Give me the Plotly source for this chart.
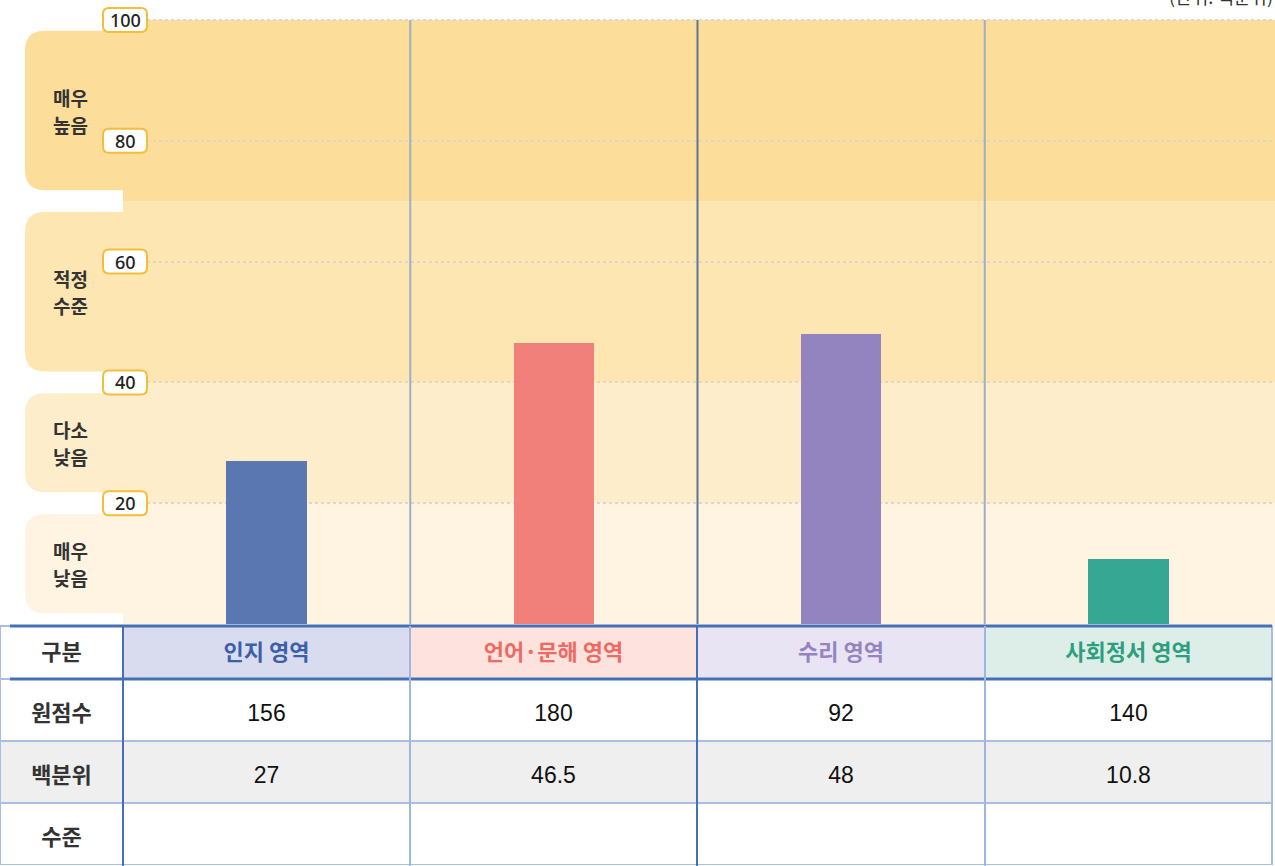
import plotly.graph_objects as go

# ---------------- data ----------------
categories = ['인지 영역', '언어·문해 영역', '수리 영역', '사회정서 영역']
raw_scores = [156, 180, 92, 140]
percentiles = [27, 46.5, 48, 10.8]
row_labels = ['구분', '원점수', '백분위', '수준']
level_names = [['매우', '낮음'], ['다소', '낮음'], ['적정', '수준'], ['매우', '높음']]
level_bounds = [0, 20, 40, 70, 100]
y_ticks = [20, 40, 60, 80, 100]
unit_text = '(단위: 백분위)'

# ---------------- styles ----------------
bar_colors = ['#5B77B1', '#F2807A', '#9384BF', '#36A792']
head_fill = ['#D9DCEE', '#FDE2DE', '#E9E4F3', '#DDEEE8']
head_font = ['#3C5FA8', '#EE6A63', '#9584C0', '#2E9E80']
band_colors = ['#FEF4E1', '#FEEDCB', '#FDE6B2', '#FCDD9A']

W, H = 1275, 866
PLOT_L, PLOT_R = 123, 1272
PLOT_T, PLOT_B = 20, 624          # pixel rows of value 100 and value 0
TABLE_T = 626
KFONT = 'Noto Sans CJK KR'
NFONT = 'Liberation Sans, Arial'
Y_MAX = 100.0 * PLOT_B / (PLOT_B - PLOT_T)   # axis extends to top edge, same scale

def px2y(p):
    return (H - p) / H

def shifted(txt, size, bold=False, family=None):
    inner = '<b>' + txt + '</b>' if bold else txt
    style = 'font-size:%dpx' % size
    if family:
        style += ';font-family:%s' % family
    return '\u00a0<br><span style="%s">%s</span>' % (style, inner)

fig = go.Figure()

fig.add_trace(go.Bar(
    x=categories, y=percentiles, marker=dict(color=bar_colors, line=dict(width=0)),
    width=0.28, hoverinfo='skip', showlegend=False))

# table
col0 = [shifted(v, 22, bold=True, family=KFONT) for v in row_labels[1:]]
cell_cols = [col0]
for i in range(len(categories)):
    cell_cols.append([shifted(str(raw_scores[i]), 23), shifted(str(percentiles[i]), 23), ''])

fig.add_trace(go.Table(
    domain=dict(x=[0, PLOT_R / W], y=[0, px2y(TABLE_T)]),
    columnwidth=[123, 287, 287, 288, 287],
    header=dict(
        values=['<b>' + row_labels[0] + '</b>'] + ['<b>' + c + '</b>' for c in categories],
        fill=dict(color=['white'] + head_fill),
        font=dict(color=['#333333'] + head_font, size=22, family=KFONT),
        line=dict(color='#A9BFE2', width=1.5),
        align='center', height=53),
    cells=dict(
        values=cell_cols,
        fill=dict(color=[['white', '#EFEFEF', 'white']] * 5),
        font=dict(color=['#333333'] + ['#111111'] * 4, size=15, family=NFONT),
        line=dict(color='#A9BFE2', width=1.5),
        align='center', height=62)))

shapes = []
annotations = []

# background bands
for i in range(4):
    lo, hi = level_bounds[i], level_bounds[i + 1]
    shapes.append(dict(type='rect', xref='paper', yref='y', x0=PLOT_L / W, x1=1,
                       y0=lo, y1=hi, fillcolor=band_colors[i], line=dict(width=0),
                       layer='below'))
    inset = 1.8
    y0, y1 = lo + inset, hi - inset
    r = 20
    ry = r / ((PLOT_B - PLOT_T) / 100.0)
    x0, x1 = 25, PLOT_L + 2
    path = (f'M {x1},{y0} L {x0 + r},{y0} Q {x0},{y0} {x0},{y0 + ry} '
            f'L {x0},{y1 - ry} Q {x0},{y1} {x0 + r},{y1} L {x1},{y1} Z')
    shapes.append(dict(type='path', xref='paper', yref='y', xsizemode='pixel', xanchor=0,
                       path=path, fillcolor=band_colors[i], line=dict(width=0), layer='below'))
    for j, word in enumerate(level_names[i]):
        annotations.append(dict(x=70 / W, xref='paper', y=(lo + hi) / 2, yref='y',
                                xanchor='center', yanchor='middle',
                                yshift=13.5 if j == 0 else -13.5,
                                text='<b>' + word + '</b>', showarrow=False,
                                font=dict(family=KFONT, size=19, color='#333333')))

# column separator lines in plot
sep_colors = ['#9FAFC2', '#5F7595', '#9FAFC2']
for k in range(3):
    shapes.append(dict(type='line', xref='x', yref='y', x0=k + 0.5, x1=k + 0.5, y0=0, y1=100,
                       line=dict(color=sep_colors[k], width=2)))

# y tick label boxes
bw, bh, br = 22, 12, 6
box_path = (f'M {-bw + br},{-bh} L {bw - br},{-bh} Q {bw},{-bh} {bw},{-bh + br} '
            f'L {bw},{bh - br} Q {bw},{bh} {bw - br},{bh} L {-bw + br},{bh} '
            f'Q {-bw},{bh} {-bw},{bh - br} L {-bw},{-bh + br} Q {-bw},{-bh} {-bw + br},{-bh} Z')
for t in y_ticks:
    shapes.append(dict(type='path', xref='paper', yref='y', xsizemode='pixel',
                       ysizemode='pixel', xanchor=125 / W, yanchor=t, path=box_path,
                       fillcolor='white', line=dict(color='#F4BD3A', width=2)))
    annotations.append(dict(x=125 / W, xref='paper', y=t, yref='y', text=str(t),
                            xanchor='center', yanchor='middle',
                            showarrow=False,
                            font=dict(family='Noto Sans', size=18, color='#222222', weight=500)))

# table lines
blue = '#4670B4'
for py in [TABLE_T, 679]:
    shapes.append(dict(type='line', xref='paper', yref='paper', x0=10 / W, x1=PLOT_R / W,
                       y0=px2y(py), y1=px2y(py), line=dict(color=blue, width=3)))
tbl_vx = [123, 410, 697, 985]
tbl_vc = [blue, '#9DB6DD', blue, '#9DB6DD']
for xv, c in zip(tbl_vx, tbl_vc):
    shapes.append(dict(type='line', xref='paper', yref='paper', x0=xv / W, x1=xv / W,
                       y0=0, y1=px2y(TABLE_T), line=dict(color=c, width=2)))

annotations.append(dict(x=1, xref='paper', y=1, yref='paper', xanchor='right',
                        yanchor='middle', yshift=4, text=unit_text, showarrow=False,
                        font=dict(family=KFONT, size=18, color='#333333')))

fig.update_layout(
    width=W, height=H, margin=dict(l=0, r=0, t=0, b=0),
    paper_bgcolor='white', plot_bgcolor='rgba(0,0,0,0)',
    bargap=0, showlegend=False,
    xaxis=dict(domain=[PLOT_L / W, PLOT_R / W], range=[-0.5, 3.5], type='category',
               showticklabels=False, showgrid=False, zeroline=False, fixedrange=True),
    yaxis=dict(domain=[px2y(PLOT_B), 1], range=[0, Y_MAX], tickvals=y_ticks,
               showticklabels=False, showgrid=True, gridcolor='#E0D6C4', griddash='dot',
               gridwidth=1.5, zeroline=False, fixedrange=True),
    shapes=shapes, annotations=annotations)

fig.write_html('out.html', config={'displayModeBar': False},
               post_script="document.body.style.margin='0';document.body.style.overflow='hidden';")
